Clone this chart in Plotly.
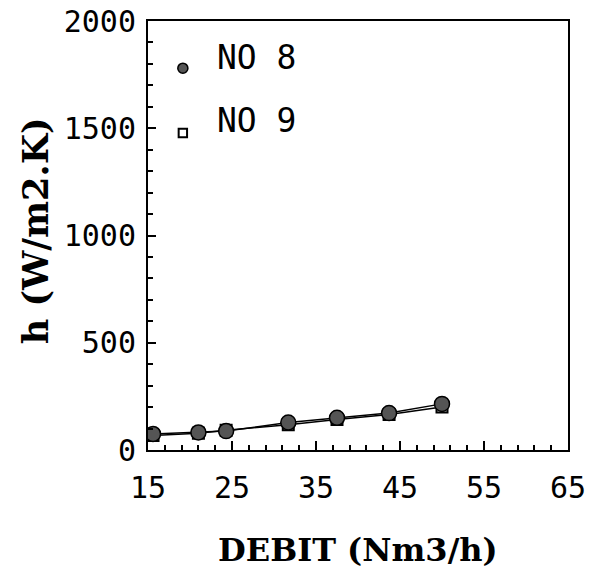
import plotly.graph_objects as go

# Data
debit_no8 = [15.6, 21.0, 24.3, 31.7, 37.5, 43.7, 50.0]
h_no8 = [75, 82, 88, 128, 150, 172, 215]
debit_no9 = [15.6, 21.0, 24.3, 31.7, 37.5, 43.7, 50.0]
h_no9 = [68, 78, 92, 118, 142, 165, 200]

series_names = ["NO 8", "NO 9"]
x_ticks = [15, 25, 35, 45, 55, 65]
y_ticks = [0, 500, 1000, 1500, 2000]

mono = "DejaVu Sans Mono"
serif = "DejaVu Serif"

fig = go.Figure()
fig.add_trace(go.Scatter(
    x=debit_no9, y=h_no9, mode="lines+markers", name=series_names[1],
    line=dict(color="black", width=1.5),
    marker=dict(symbol="square-open", size=11, color="black", line=dict(width=2)),
    showlegend=False))
fig.add_trace(go.Scatter(
    x=debit_no8, y=h_no8, mode="lines+markers", name=series_names[0],
    line=dict(color="black", width=1.5),
    marker=dict(symbol="circle", size=15, color="#555555", line=dict(color="black", width=1.5)),
    showlegend=False))

axis_common = dict(
    showline=True, linecolor="black", linewidth=2, mirror=True,
    ticks="inside", tickcolor="black", tickwidth=1.5,
    showgrid=False, zeroline=False, automargin=False,
    tickfont=dict(family=mono, size=30, color="black"),
)

fig.update_xaxes(range=[15, 65], tickvals=x_ticks, ticktext=[str(v) for v in x_ticks],
                 ticklen=9,
                 minor=dict(dtick=2, tick0=15, ticks="inside", ticklen=5, tickcolor="black", tickwidth=1.5),
                 ticklabelstandoff=10,
                 **axis_common)
fig.update_yaxes(range=[0, 2000], tickvals=y_ticks, ticktext=[str(v) for v in y_ticks],
                 ticklen=8,
                 minor=dict(dtick=100, ticks="inside", ticklen=5, tickcolor="black", tickwidth=1.5),
                 ticklabelstandoff=4,
                 **axis_common)

# Legend drawn manually
fig.add_shape(type="circle", xref="paper", yref="paper",
              x0=0.083 - 0.012, x1=0.083 + 0.012, y0=0.890 - 0.0118, y1=0.890 + 0.0118,
              fillcolor="#555555", line=dict(color="black", width=1.5))
fig.add_shape(type="rect", xref="paper", yref="paper",
              x0=0.083 - 0.01, x1=0.083 + 0.01, y0=0.739 - 0.01, y1=0.739 + 0.01,
              fillcolor="white", line=dict(color="black", width=2))
fig.add_annotation(xref="paper", yref="paper", x=0.16, y=0.916, xanchor="left", yanchor="middle",
                   text=series_names[0], showarrow=False,
                   font=dict(family=mono, size=33, color="black"))
fig.add_annotation(xref="paper", yref="paper", x=0.16, y=0.769, xanchor="left", yanchor="middle",
                   text=series_names[1], showarrow=False,
                   font=dict(family=mono, size=33, color="black"))

# Axis titles
fig.add_annotation(xref="paper", yref="paper", x=0.5, y=0, yshift=-100, xanchor="center", yanchor="middle",
                   text="<b>DEBIT (Nm3/h)</b>", showarrow=False, borderpad=0,
                   font=dict(family=serif, size=32, color="black"))
fig.add_annotation(xref="paper", yref="paper", x=0, xshift=-113, y=0.51, xanchor="center", yanchor="middle",
                   text="<b>h (W/m2.K)</b>", showarrow=False, textangle=-90,
                   font=dict(family=serif, size=35, color="black"))

fig.update_layout(
    width=600, height=570,
    margin=dict(l=148, r=32, t=21, b=120, autoexpand=False),
    paper_bgcolor="white", plot_bgcolor="white",
    showlegend=False,
)

fig.write_html("out.html", config={"displayModeBar": False},
               post_script="document.body.style.margin='0';document.body.style.overflow='hidden';")
